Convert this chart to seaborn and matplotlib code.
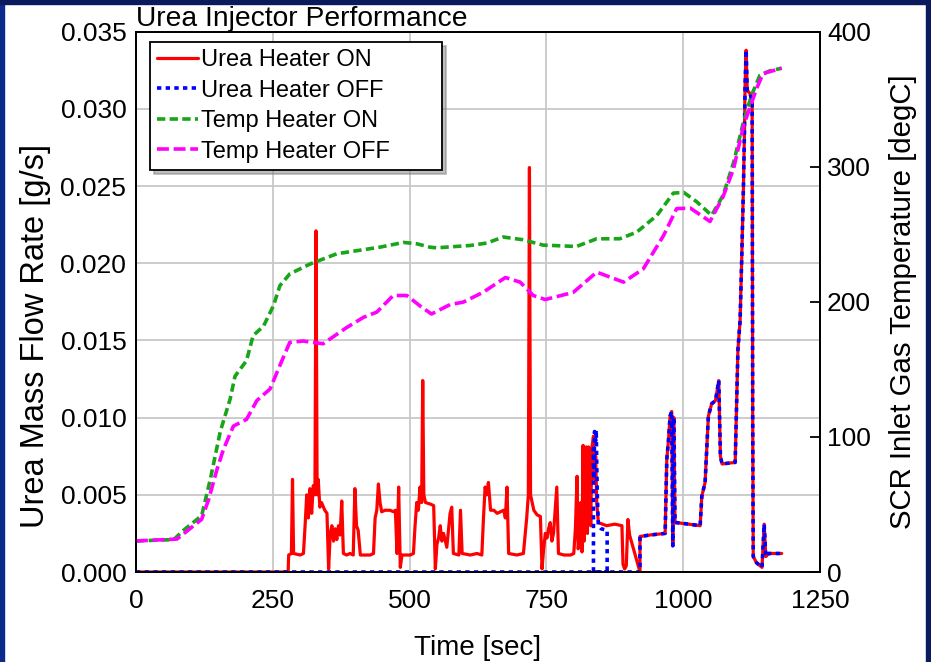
import numpy as np
import pandas as pd
import matplotlib
matplotlib.use("Agg")
import matplotlib.pyplot as plt
import seaborn as sns
from matplotlib.patches import Rectangle

# Urea mass flow [g/s], heater ON, until both runs follow the same trace
urea_on_t = [0, 278, 279, 284, 286, 288, 300, 306, 309, 312, 315, 318, 321, 324, 327, 329, 331, 333,
             336, 339, 345, 349, 352, 355, 358, 361, 364, 367, 370, 373, 376, 379, 385, 391, 397, 400,
             403, 406, 410, 428, 434, 437, 440, 443, 446, 449, 455, 464, 471, 474, 477, 480, 483, 486,
             501, 507, 510, 513, 516, 519, 522, 524, 526, 529, 538, 544, 547, 550, 553, 556, 559, 562,
             568, 574, 577, 580, 590, 593, 596, 611, 623, 632, 635, 638, 641, 644, 648, 654, 660, 666,
             672, 675, 678, 681, 696, 708, 714, 717, 719, 721, 724, 727, 733, 739, 742, 745, 748, 751,
             754, 757, 760, 763, 766, 769, 772, 782, 794, 800, 803, 806, 808, 811, 813, 815, 817, 819,
             821, 823, 825, 827, 829, 831, 833, 836, 838, 840, 842, 845, 860, 875, 888, 890, 893, 896,
             899, 902]
urea_on_v = [0, 0, 0.0011, 0.0012, 0.0060, 0.0012, 0.0011, 0.0012, 0.0030, 0.0050, 0.0035, 0.0054,
             0.0038, 0.0056, 0.0050, 0.0221, 0.0050, 0.0060, 0.0042, 0.0045, 0.0040, 0.0038, 0.0002,
             0.0025, 0.0030, 0.0020, 0.0028, 0.0021, 0.0030, 0.0024, 0.0046, 0.0012, 0.0011, 0.0012,
             0.0011, 0.0054, 0.0030, 0.0027, 0.0011, 0.0011, 0.0012, 0.0035, 0.0040, 0.0057, 0.0045,
             0.0039, 0.0040, 0.0040, 0.0039, 0.0040, 0.0012, 0.0055, 0.0003, 0.0011, 0.0011, 0.0012,
             0.0030, 0.0045, 0.0040, 0.0055, 0.0045, 0.0124, 0.0050, 0.0045, 0.0044, 0.0043, 0.0002,
             0.0018, 0.0022, 0.0030, 0.0020, 0.0025, 0.0016, 0.0038, 0.0042, 0.0012, 0.0011, 0.0040,
             0.0012, 0.0011, 0.0012, 0.0011, 0.0035, 0.0055, 0.0050, 0.0058, 0.0040, 0.0040, 0.0038,
             0.0039, 0.0040, 0.0035, 0.0055, 0.0012, 0.0011, 0.0012, 0.0035, 0.0050, 0.0262, 0.0050,
             0.0045, 0.0040, 0.0037, 0.0036, 0.0002, 0.0015, 0.0025, 0.0022, 0.0028, 0.0032, 0.0020,
             0.0025, 0.0040, 0.0055, 0.0012, 0.0011, 0.0011, 0.0012, 0.0028, 0.0062, 0.0015, 0.0020,
             0.0045, 0.0013, 0.0082, 0.0020, 0.0060, 0.0081, 0.0025, 0.0081, 0.0079, 0.0030, 0.0080,
             0.0088, 0.0060, 0.0075, 0.0045, 0.0032, 0.0030, 0.0031, 0.0030, 0.0005, 0.0002, 0.0004,
             0.0034, 0.0024]

# Urea mass flow [g/s], heater OFF, before the common trace
urea_off_t = [0, 861, 836, 836, 837, 838, 840, 841, 843, 845, 850, 861, 861]
urea_off_v = [0, 0, 0, 0.0080, 0.0060, 0.0091, 0.0085, 0.0092, 0.0050, 0.0030, 0.0028, 0.0027, 0]

# Trace shared by both runs from 921 s on
urea_common_t = [921, 921, 940, 967, 970, 973, 976, 979, 981, 982, 983, 985, 988, 1010, 1031, 1034,
                 1040, 1046, 1052, 1059, 1065, 1068, 1071, 1095, 1100, 1104, 1107, 1110, 1112, 1113,
                 1115, 1117, 1122, 1126, 1127, 1128, 1134, 1144, 1148, 1151, 1156, 1180]
urea_common_v = [0, 0.0023, 0.0024, 0.0025, 0.0073, 0.0085, 0.0101, 0.0104, 0.0017, 0.0095, 0.0100,
                 0.0032, 0.0032, 0.0031, 0.0030, 0.0049, 0.0058, 0.0101, 0.0109, 0.0111, 0.0124,
                 0.0075, 0.0070, 0.0071, 0.0144, 0.0163, 0.0204, 0.0248, 0.0286, 0.0314, 0.0338,
                 0.0312, 0.0310, 0.0305, 0.0100, 0.0010, 0.0006, 0.0003, 0.0031, 0.0010, 0.0012,
                 0.0012]

# SCR inlet gas temperature [degC]
temp_on_t = [0, 69, 86, 120, 136, 154, 172, 181, 202, 214, 233, 251, 263, 281, 318, 367, 446, 489,
             513, 537, 549, 610, 641, 671, 707, 744, 805, 842, 884, 915, 952, 982, 1001, 1025, 1052,
             1073, 1092, 1110, 1125, 1140, 1158, 1180]
temp_on_v = [23, 24, 30.6, 41.7, 69, 104, 128, 145, 156.5, 175, 182, 197, 212, 220.7, 228, 235.6,
             240.5, 244, 243, 240.5, 240, 241.7, 243.5, 248, 246, 242, 241, 246.7, 246.7, 251.6, 264,
             280.5, 281, 274, 264, 279, 303, 333, 353, 367.6, 371, 373]
temp_off_t = [0, 75, 120, 133, 148, 160, 178, 202, 221, 245, 263, 281, 305, 342, 385, 416, 440, 470,
              495, 519, 540, 574, 598, 634, 675, 702, 726, 748, 799, 842, 891, 927, 964, 988, 1013,
              1049, 1073, 1092, 1110, 1134, 1146, 1180]
temp_off_v = [23, 24.4, 39, 54, 76, 91, 108, 113, 127, 135.5, 153, 170, 171, 169, 181, 188.6, 192.4,
              204.7, 204.7, 197, 191, 198, 199.8, 207, 218, 214.6, 204.7, 201.7, 207, 222, 214.6,
              224.4, 249, 269, 269.4, 259.5, 278, 298.5, 330, 357.8, 369, 373]

sns.set_style("white")
plt.rcParams["font.family"] = ["Liberation Sans", "DejaVu Sans"]
plt.rcParams["text.color"] = "black"
plt.rcParams["axes.labelcolor"] = "black"
plt.rcParams["xtick.color"] = "black"
plt.rcParams["ytick.color"] = "black"

red = "#ff0000"
blue = "#0000ff"
green = "#19a519"
magenta = "#ff00ff"

flow_on = pd.DataFrame({"t": urea_on_t + urea_common_t, "v": urea_on_v + urea_common_v})
flow_off = pd.DataFrame({"t": urea_off_t + urea_common_t, "v": urea_off_v + urea_common_v})
gas_on = pd.DataFrame({"t": temp_on_t, "T": temp_on_v})
gas_off = pd.DataFrame({"t": temp_off_t, "T": temp_off_v})

fig = plt.figure(figsize=(9.31, 6.62), dpi=100)
fig.patch.set_facecolor("white")
ax = fig.add_axes([136 / 931, 1 - 572 / 662, (820 - 136) / 931, (572 - 31.7) / 662])

sns.lineplot(data=flow_on, x="t", y="v", sort=False, estimator=None, ax=ax,
             color=red, lw=2.3, label="Urea Heater ON", legend=False)
sns.lineplot(data=flow_off, x="t", y="v", sort=False, estimator=None, ax=ax,
             color=blue, lw=2.6, linestyle=(0, (1.2, 1.2)), label="Urea Heater OFF", legend=False)

ax.set_xlim(0, 1250)
ax.set_ylim(0, 0.035)
ax.set_xticks([0, 250, 500, 750, 1000, 1250])
ax.set_yticks(np.arange(0, 0.0351, 0.005))
ax.yaxis.set_major_formatter(matplotlib.ticker.FormatStrFormatter("%.3f"))
ax.grid(True, color="#c8c8c8", lw=1.3)
ax.set_axisbelow(True)
ax.tick_params(axis="both", labelsize=19, length=0, colors="black")
ax.tick_params(axis="x", pad=12)
ax.tick_params(axis="y", pad=7)
ax.set_xlabel("Time [sec]", fontsize=20, labelpad=16, color="black")
ax.set_ylabel("Urea Mass Flow Rate [g/s]", fontsize=23.5, color="black")
ax.yaxis.set_label_coords(-0.124, 0.437)
ax.set_title("Urea Injector Performance", loc="left", fontsize=20.3, pad=1, color="black")

ax2 = ax.twinx()
sns.lineplot(data=gas_on, x="t", y="T", sort=False, estimator=None, ax=ax2,
             color=green, lw=2.6, linestyle=(0, (2.3, 1.2)), label="Temp Heater ON", legend=False)
sns.lineplot(data=gas_off, x="t", y="T", sort=False, estimator=None, ax=ax2,
             color=magenta, lw=2.6, linestyle=(0, (3.3, 1.3)), label="Temp Heater OFF", legend=False)
ax2.set_ylim(0, 400)
ax2.set_yticks([0, 100, 200, 300, 400])
ax2.grid(False)
ax2.tick_params(axis="y", labelsize=19, direction="in", length=7, width=1.3, pad=5, colors="black")
ax2.set_ylabel("SCR Inlet Gas Temperature [degC]", fontsize=21.2, labelpad=13, color="black")

for a in (ax, ax2):
    for s in a.spines.values():
        s.set_color("black")
        s.set_linewidth(1.3)

handles = ax.get_lines()[:2] + ax2.get_lines()[:2]
labels = ["Urea Heater ON", "Urea Heater OFF", "Temp Heater ON", "Temp Heater OFF"]
leg = ax2.legend(handles, labels, loc="upper left",
                 bbox_to_anchor=(14 / 684, 0.0, 292 / 684, 530 / 540.4), mode="expand",
                 borderaxespad=0, fontsize=17, handlelength=1.75, handletextpad=0.1,
                 labelspacing=0.36, borderpad=0.3, fancybox=False, framealpha=1,
                 edgecolor="black", shadow={"ox": 3, "oy": -3, "shade": 0.5})
leg.get_frame().set_linewidth(1.3)
for txt in leg.get_texts():
    txt.set_color("black")

# navy frame around the picture
fig.patches.append(Rectangle((0, 0), 4 / 931, 1, transform=fig.transFigure,
                             color="#0a2a8c", zorder=10))
fig.patches.append(Rectangle((0, 1 - 4 / 662), 1, 4 / 662, transform=fig.transFigure,
                             color="#0b1a5c", zorder=10))
fig.patches.append(Rectangle((1 - 5 / 931, 0), 5 / 931, 1, transform=fig.transFigure,
                             color="#0b1a5c", zorder=10))

fig.savefig("out.png", dpi=100)
